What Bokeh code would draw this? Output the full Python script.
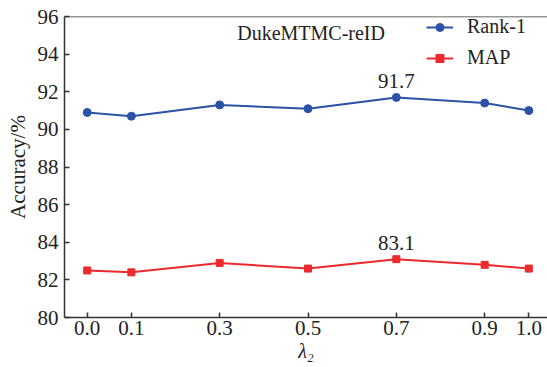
from bokeh.plotting import figure
from bokeh.models import FixedTicker, Span, Label, ColumnDataSource, Legend, LegendItem, Range1d
from bokeh.core.properties import value
from bokeh.embed import file_html
from bokeh.resources import INLINE

lambdas = [0.0, 0.1, 0.3, 0.5, 0.7, 0.9, 1.0]
tick_labels = ["0.0", "0.1", "0.3", "0.5", "0.7", "0.9", "1.0"]
rank1 = [90.9, 90.7, 91.3, 91.1, 91.7, 91.4, 91.0]
mAP = [82.5, 82.4, 82.9, 82.6, 83.1, 82.8, 82.6]
y_ticks = [80, 82, 84, 86, 88, 90, 92, 94, 96]
dataset = "DukeMTMC-reID"

FONT = "Liberation Serif"
BLUE = "#2b52a6"
RED = "#ec2a2e"
AX = "#333333"

p = figure(width=547, height=367, output_backend="svg", toolbar_location=None,
           x_range=Range1d(-0.0514, 1.0423), y_range=Range1d(80, 96),
           min_border_left=64, min_border_right=0, min_border_top=16, min_border_bottom=50)
p.outline_line_color = None
p.grid.grid_line_color = None
p.background_fill_color = "white"

for ax in (p.xaxis[0], p.yaxis[0]):
    ax.axis_line_color = AX
    ax.axis_line_width = 1.5
    ax.major_tick_line_color = AX
    ax.major_tick_line_width = 1.5
    ax.major_tick_in = 5
    ax.major_tick_out = 0
    ax.minor_tick_line_color = None
    ax.major_label_text_font = FONT
    ax.major_label_text_font_size = "21px"
    ax.major_label_text_color = "#222222"
    ax.axis_label_text_font = FONT
    ax.axis_label_text_color = "#222222"

p.xaxis.ticker = FixedTicker(ticks=lambdas)
p.xaxis.major_label_overrides = {x: t for x, t in zip(lambdas, tick_labels)}
p.xaxis.major_label_standoff = 3
p.xaxis.axis_label = "λ₂"
p.xaxis.axis_label_text_font_style = "italic"
p.xaxis.axis_label_text_font_size = "20px"
p.xaxis.axis_label_standoff = 2

p.yaxis.ticker = FixedTicker(ticks=y_ticks)
p.yaxis.major_label_standoff = 6
p.yaxis.axis_label = "Accuracy/%"
p.yaxis.axis_label_text_font_style = "normal"
p.yaxis.axis_label_text_font_size = "21px"
p.yaxis.axis_label_standoff = 5

p.add_layout(Span(location=96, dimension="width", line_color=AX, line_width=1.5))

src = ColumnDataSource(dict(x=lambdas, r=rank1, m=mAP))
l1 = p.line("x", "r", source=src, line_color=BLUE, line_width=2)
c1 = p.scatter("x", "r", source=src, marker="circle", size=8, fill_color=BLUE, line_color=BLUE)
l2 = p.line("x", "m", source=src, line_color=RED, line_width=2)
c2 = p.scatter("x", "m", source=src, marker="square", size=7, fill_color=RED, line_color=RED)

# annotate maxima
ir = rank1.index(max(rank1))
im = mAP.index(max(mAP))
p.add_layout(Label(x=lambdas[ir], y=rank1[ir], text=f"{rank1[ir]:.1f}", text_font=FONT,
                   text_font_size="21px", text_align="center", text_baseline="bottom",
                   y_offset=9, text_color="#222222"))
p.add_layout(Label(x=lambdas[im], y=mAP[im], text=f"{mAP[im]:.1f}", text_font=FONT,
                   text_font_size="21px", text_align="center", text_baseline="bottom",
                   y_offset=9, text_color="#222222"))

p.add_layout(Label(x=0.507, y=95.1, text=dataset, text_font=FONT, text_font_size="20px",
                   text_align="center", text_baseline="middle", text_color="#222222"))

legend = Legend(items=[LegendItem(label="Rank-1", renderers=[l1, c1]),
                       LegendItem(label="MAP", renderers=[l2, c2])],
                location=(362, 248), border_line_color=None, background_fill_alpha=0,
                label_text_font=FONT, label_text_font_size="20px", label_text_color="#222222",
                glyph_width=27, glyph_height=20, label_height=20, label_standoff=14,
                spacing=8, padding=2, margin=0)
p.add_layout(legend)

open("out.html", "w").write(file_html(p, INLINE))
